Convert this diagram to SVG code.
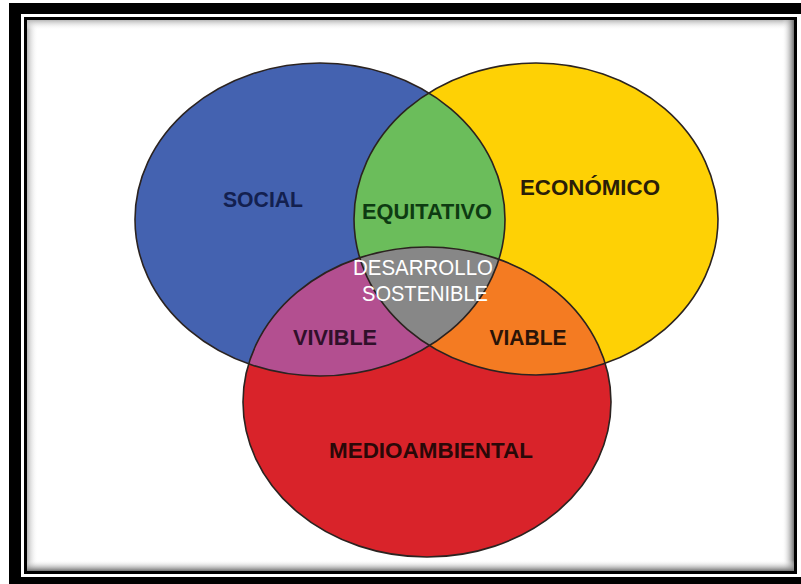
<svg xmlns="http://www.w3.org/2000/svg" width="801" height="584" viewBox="0 0 801 584">
  <defs>
    <style>
      .lbl { font-family: "Liberation Sans", Arial, sans-serif; font-weight: bold; font-size: 22.5px; text-anchor: middle; }
      .wht { font-family: "Liberation Sans", Arial, sans-serif; font-size: 22px; fill: #ffffff; text-anchor: middle; }
      .edge { fill: none; stroke: #2b2320; stroke-width: 1.6; }
    </style>
    <ellipse id="eBlue" cx="320" cy="219.5" rx="185" ry="156.5"/>
    <ellipse id="eYellow" cx="536" cy="219" rx="182" ry="156"/>
    <ellipse id="eRed" cx="427" cy="402" rx="184" ry="155"/>
    <clipPath id="cBlue"><use href="#eBlue"/></clipPath>
    <clipPath id="cYellow"><use href="#eYellow"/></clipPath>
    <linearGradient id="gL" x1="0" y1="0" x2="1" y2="0">
      <stop offset="0" stop-color="#b8b8b8"/><stop offset="1" stop-color="#ffffff" stop-opacity="0"/>
    </linearGradient>
    <linearGradient id="gT" x1="0" y1="0" x2="0" y2="1">
      <stop offset="0" stop-color="#b8b8b8"/><stop offset="1" stop-color="#ffffff" stop-opacity="0"/>
    </linearGradient>
    <linearGradient id="gR" x1="1" y1="0" x2="0" y2="0">
      <stop offset="0" stop-color="#707070"/><stop offset="1" stop-color="#ffffff" stop-opacity="0"/>
    </linearGradient>
    <linearGradient id="gB" x1="0" y1="1" x2="0" y2="0">
      <stop offset="0" stop-color="#707070"/><stop offset="1" stop-color="#ffffff" stop-opacity="0"/>
    </linearGradient>
  </defs>

  <g id="frame">
    <rect x="0" y="0" width="801" height="584" fill="#ffffff"/>
    <rect x="9" y="3" width="792" height="11" fill="#000000"/>
    <rect x="9" y="3" width="12" height="581" fill="#000000"/>
    <rect x="9" y="577" width="792" height="7" fill="#000000"/>
    <rect x="25.5" y="18.5" width="770" height="554" fill="#ffffff" stroke="#000000" stroke-width="3"/>
    <rect x="27" y="20" width="11" height="551" fill="url(#gL)"/>
    <rect x="27" y="20" width="767" height="10" fill="url(#gT)"/>
    <rect x="782" y="20" width="12" height="551" fill="url(#gR)"/>
    <rect x="27" y="560" width="767" height="11" fill="url(#gB)"/>
  </g>

  <g id="social">
    <use href="#eBlue" fill="#4462b0"/>
  </g>
  <g id="economico">
    <use href="#eYellow" fill="#fed105"/>
  </g>
  <g id="medioambiental">
    <use href="#eRed" fill="#d9232a"/>
  </g>
  <g id="equitativo">
    <use href="#eYellow" fill="#6bbd5b" clip-path="url(#cBlue)"/>
  </g>
  <g id="vivible">
    <use href="#eRed" fill="#b34f90" clip-path="url(#cBlue)"/>
  </g>
  <g id="viable">
    <use href="#eRed" fill="#f47b22" clip-path="url(#cYellow)"/>
  </g>
  <g id="desarrollo-sostenible">
    <g clip-path="url(#cYellow)">
      <use href="#eRed" fill="#878787" clip-path="url(#cBlue)"/>
    </g>
  </g>

  <g id="outlines">
    <use href="#eBlue" class="edge"/>
    <use href="#eYellow" class="edge"/>
    <use href="#eRed" class="edge"/>
  </g>

  <g id="labels">
    <text class="lbl" x="263" y="207" fill="#13204f" textLength="80" lengthAdjust="spacingAndGlyphs">SOCIAL</text>
    <text class="lbl" x="427" y="219" fill="#0e3b12" textLength="130" lengthAdjust="spacingAndGlyphs">EQUITATIVO</text>
    <text class="lbl" x="590" y="195" fill="#2a1e08" textLength="140" lengthAdjust="spacingAndGlyphs">ECONÓMICO</text>
    <text class="wht" x="423" y="275" textLength="140" lengthAdjust="spacingAndGlyphs">DESARROLLO</text>
    <text class="wht" x="425" y="301" textLength="126" lengthAdjust="spacingAndGlyphs">SOSTENIBLE</text>
    <text class="lbl" x="335" y="345" fill="#30102a" textLength="84" lengthAdjust="spacingAndGlyphs">VIVIBLE</text>
    <text class="lbl" x="528" y="345" fill="#2a1408" textLength="77" lengthAdjust="spacingAndGlyphs">VIABLE</text>
    <text class="lbl" x="431" y="458" fill="#2a0808" textLength="204" lengthAdjust="spacingAndGlyphs">MEDIOAMBIENTAL</text>
  </g>
</svg>
